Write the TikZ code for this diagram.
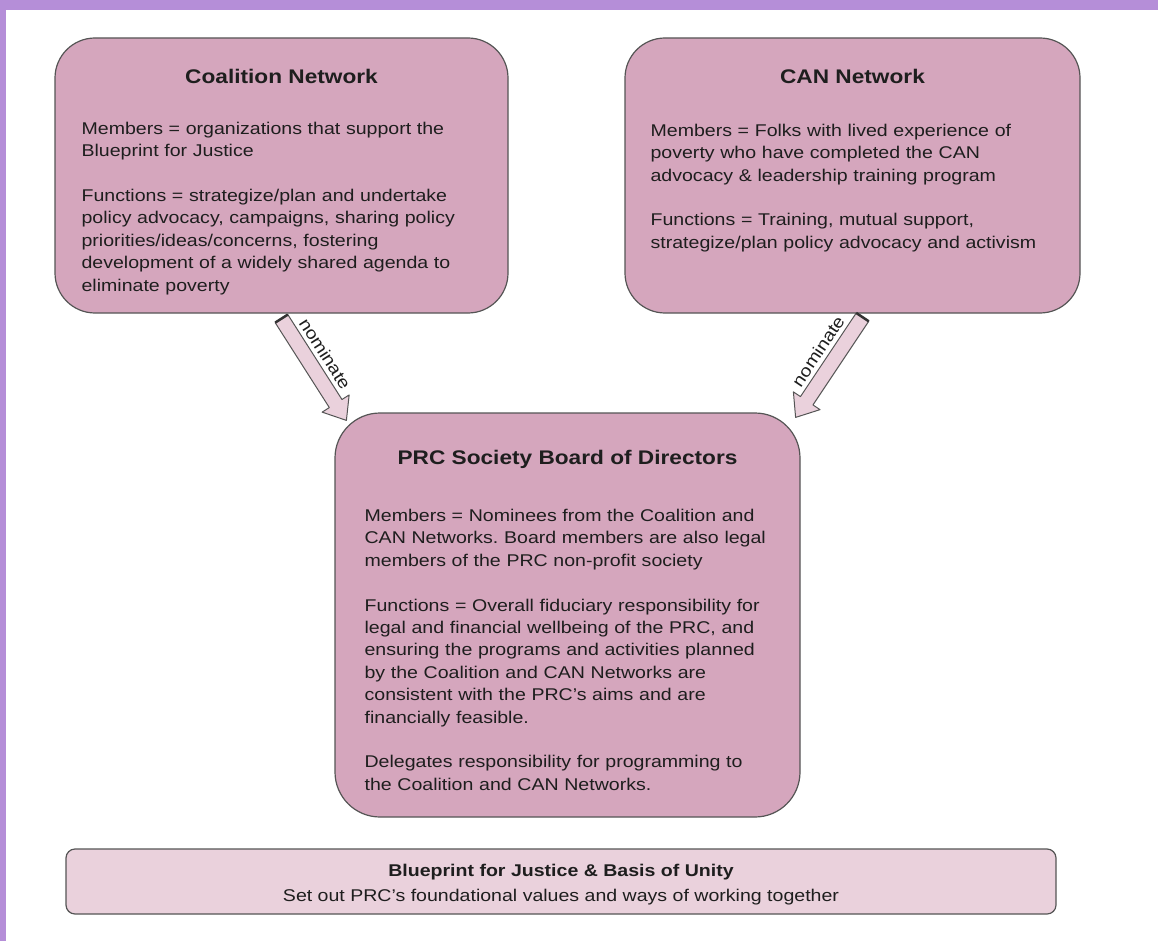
\documentclass[tikz,border=0pt]{standalone}
\usepackage{fontspec}
\setmainfont{Liberation Sans}[FakeStretch=1.15]
\usetikzlibrary{calc,positioning}
\definecolor{framepurple}{RGB}{181,142,216}
\definecolor{boxpink}{RGB}{213,166,189}
\definecolor{palepink}{RGB}{234,209,220}
\definecolor{edgegray}{RGB}{85,85,85}
\definecolor{inkgray}{RGB}{30,30,30}
\frenchspacing
\tikzset{
  bigbox/.style={draw=edgegray, line width=1.2pt, fill=boxpink, rounded corners=40pt, inner sep=0},
  basebox/.style={draw=edgegray, line width=1.2pt, fill=palepink, rounded corners=9pt, inner sep=0},
  boxtitle/.style={font=\bfseries\fontsize{19.7}{22}\selectfont, text=inkgray, anchor=base, inner sep=0},
  basetext/.style={font=\fontsize{17}{20}\selectfont, text=inkgray, anchor=base, inner sep=0},
  boxbody/.style={font=\fontsize{17}{22.4}\selectfont, text=inkgray, anchor=base west, align=left, inner sep=0, text width=440pt},
  arrowbody/.style={draw=edgegray, line width=1pt, fill=palepink, line join=round},
  tailmark/.style={draw=edgegray!60!black, line width=2.5pt},
  arrowlabel/.style={font=\fontsize{17}{20}\selectfont, text=inkgray, inner sep=0}
}
\begin{document}
\begin{tikzpicture}[x=1pt,y=-1pt]
\useasboundingbox (0,0) rectangle (1158,941);
\fill[framepurple] (0,0) rectangle (1158,941);
\fill[white] (6,10) rectangle (1158,941);

\node[bigbox, minimum width=453pt, minimum height=275pt] (coal) at (281.5,175.5) {};
\node[bigbox, minimum width=455pt, minimum height=275pt] (can) at (852.5,175.5) {};
\node[bigbox, minimum width=465pt, minimum height=404pt, rounded corners=45pt] (prc) at (567.5,615) {};
\node[basebox, minimum width=990pt, minimum height=65pt] (base) at (561,881.5) {};

\node[boxtitle] (coaltitle) at ($(coal.north)+(0,46)$) {Coalition Network};
\node[boxbody] (coalbody) at ($(coal.north west)+(27,97)$) {Members = organizations that support the\\
Blueprint for Justice\\[22.4pt]
Functions = strategize/plan and undertake\\
policy advocacy, campaigns, sharing policy\\
priorities/ideas/concerns, fostering\\
development of a widely shared agenda to\\
eliminate poverty};

\node[boxtitle] (cantitle) at ($(can.north)+(0,46)$) {CAN Network};
\node[boxbody] (canbody) at ($(can.north west)+(26,99)$) {Members = Folks with lived experience of\\
poverty who have completed the CAN\\
advocacy \& leadership training program\\[22.4pt]
Functions = Training, mutual support,\\
strategize/plan policy advocacy and activism};

\node[boxtitle] (prctitle) at ($(prc.north)+(0,52)$) {PRC Society Board of Directors};
\node[boxbody] (prcbody) at ($(prc.north west)+(30,109)$) {Members = Nominees from the Coalition and\\
CAN Networks. Board members are also legal\\
members of the PRC non-profit society\\[22.4pt]
Functions = Overall fiduciary responsibility for\\
legal and financial wellbeing of the PRC, and\\
ensuring the programs and activities planned\\
by the Coalition and CAN Networks are\\
consistent with the PRC’s aims and are\\
financially feasible.\\[22.4pt]
Delegates responsibility for programming to\\
the Coalition and CAN Networks.};

\node[basetext, font=\bfseries\fontsize{17}{20}\selectfont] (basetitle) at ($(base.north)+(0,28)$) {Blueprint for Justice \& Basis of Unity};
\node[basetext] (basesub) at ($(base.north)+(0,53)$) {Set out PRC’s foundational values and ways of working together};

\coordinate (coaltail) at ($(coal.south)+(0,5)$);
\coordinate (coaltip) at ($(prc.north west)+(12,8)$);
\coordinate (cantail) at ($(can.south)+(10,3.5)$);
\coordinate (cantip) at ($(prc.north east)+(-5,5)$);

\foreach \t/\h/\a/\b in {coaltail/coaltip/90/-90, cantail/cantip/-90/90}{
  \coordinate (hb) at ($(\h)!20pt!(\t)$);
  \draw[arrowbody] ($(\t)!7.5pt!90:(\h)$) -- ($(hb)!7.5pt!90:(\h)$) -- ($(hb)!16pt!90:(\h)$) -- (\h)
    -- ($(hb)!16pt!-90:(\h)$) -- ($(hb)!7.5pt!-90:(\h)$) -- ($(\t)!7.5pt!-90:(\h)$) -- cycle;
  \draw[tailmark] ($(\t)!7.5pt!90:(\h)$) -- ($(\t)!7.5pt!-90:(\h)$);
  \path ($(\t)!18pt!\a:(\h)$) -- ($(\h)!18pt!\b:(\t)$) node[arrowlabel, pos=0.44, sloped, anchor=center] (lbl\t) {nominate};
}
\end{tikzpicture}
\end{document}
